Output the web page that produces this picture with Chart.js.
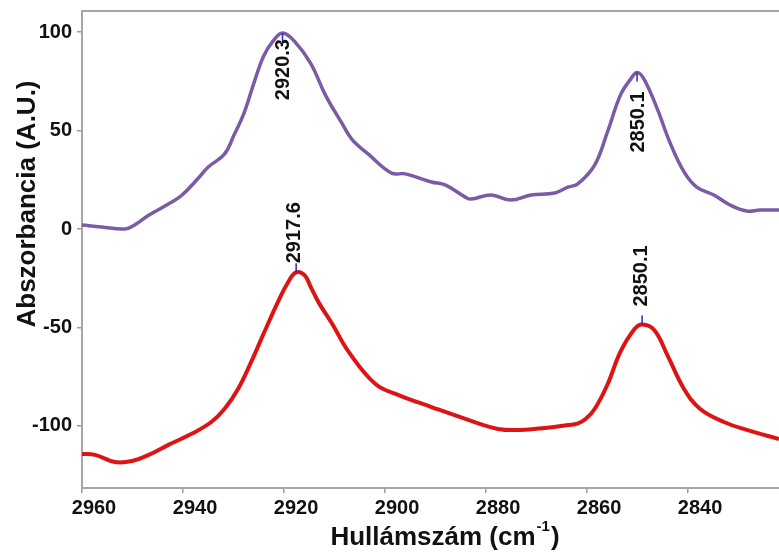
<!DOCTYPE html>
<html><head><meta charset="utf-8">
<script src="https://cdn.jsdelivr.net/npm/chart.js@4.4.1/dist/chart.umd.min.js"></script>
<style>html,body{margin:0;padding:0;background:#fff;}</style>
</head><body>
<canvas id="c" width="779" height="552"></canvas>
<script>
// ---- data ----
const xTickValues = [2960, 2940, 2920, 2900, 2880, 2860, 2840];
const yTickValues = [100, 50, 0, -50, -100];

const purpleWn  = [2960, 2956.1, 2951.5, 2949.6, 2946.8, 2942.9, 2940.3, 2936.9, 2935.0, 2931.8, 2929.9, 2927.9, 2925.9, 2924.0, 2922.0, 2920.3, 2918.0, 2914.7, 2911.8, 2908.6, 2906.6, 2903.3, 2898.7, 2896.0, 2890.8, 2888.0, 2884.1, 2883.0, 2879.0, 2875.1, 2871.1, 2866.4, 2863.8, 2861.9, 2858.5, 2856.0, 2853.4, 2851.4, 2850.1, 2848.7, 2846.1, 2843.6, 2840.8, 2838.3, 2834.9, 2831.7, 2828.4, 2825.8, 2822.0];
const purpleAbs = [2.0, 1.0, 0.0, 2.0, 7.0, 12.7, 17.0, 26.0, 31.5, 38.0, 47.7, 59.0, 74.6, 88.0, 96.0, 99.5, 95.5, 84.0, 68.0, 54.0, 45.7, 38.0, 28.4, 28.0, 23.9, 22.3, 16.2, 15.2, 17.3, 14.7, 17.3, 18.3, 21.3, 22.8, 32.5, 49.0, 68.0, 76.0, 79.5, 76.0, 61.0, 44.0, 29.0, 21.3, 17.3, 12.2, 9.1, 9.6, 9.6];

const redWn  = [2960, 2957.4, 2953.5, 2950.1, 2946.8, 2942.9, 2938.3, 2934.4, 2931.8, 2929.1, 2926.5, 2923.9, 2921.2, 2919.2, 2917.6, 2915.9, 2914.7, 2913.1, 2910.5, 2907.2, 2901.9, 2897.3, 2890.8, 2884.1, 2877.6, 2873.1, 2868.4, 2863.8, 2861.9, 2860.3, 2858.5, 2856.0, 2853.4, 2850.6, 2849.1, 2846.7, 2844.1, 2840.8, 2837.6, 2832.9, 2828.4, 2822.0];
const redAbs = [-114.2, -114.7, -118.3, -117.8, -114.7, -109.6, -104.0, -98.0, -91.4, -81.2, -67.5, -52.3, -37.0, -27.0, -22.0, -23.5, -29.5, -37.5, -48.0, -62.4, -78.7, -84.3, -90.4, -96.4, -101.5, -102.0, -101.0, -99.5, -98.8, -96.5, -91.4, -79.2, -62.4, -50.8, -48.5, -51.3, -64.0, -81.2, -91.4, -98.0, -102.0, -106.6];

// peak annotations
const peakWn    = [2920.3, 2850.1, 2917.6, 2849.1];
const peakAbs   = [99.5, 79.5, -22.0, -48.5];
const peakText  = ['2920.3', '2850.1', '2917.6', '2850.1'];
const peakSide  = ['below', 'below', 'above', 'above'];

const yTitle = 'Abszorbancia (A.U.)';
const xTitleMain = 'Hullámszám (cm';
const xTitleSup = '-1';
const xTitleEnd = ')';

const FONT = "'Liberation Sans', Arial, sans-serif";

const peakPlugin = {
  id: 'peaks',
  afterDatasetsDraw(chart) {
    const {ctx, scales: {x, y}} = chart;
    const gaps = [6, 19, 9, 18];
    const dxs = [0, 0, -3, -2];
    ctx.save();
    for (let i = 0; i < peakWn.length; i++) {
      const px = x.getPixelForValue(peakWn[i]);
      const py = y.getPixelForValue(peakAbs[i]);
      const dir = peakSide[i] === 'below' ? 1 : -1;
      ctx.strokeStyle = '#2a2aa8';
      ctx.lineWidth = 1.5;
      ctx.beginPath();
      ctx.moveTo(px, py);
      ctx.lineTo(px, py + dir * 9);
      ctx.stroke();
      ctx.save();
      ctx.translate(px + dxs[i], py + dir * gaps[i]);
      ctx.rotate(-Math.PI / 2);
      ctx.font = 'bold 20px ' + FONT;
      ctx.fillStyle = '#111';
      ctx.textBaseline = 'middle';
      ctx.textAlign = dir === 1 ? 'right' : 'left';
      ctx.fillText(peakText[i], 0, 1);
      ctx.restore();
    }
    ctx.restore();
  },
  afterDraw(chart) {
    const {ctx, chartArea} = chart;
    ctx.save();
    // top frame line
    ctx.strokeStyle = '#a6a6a6';
    ctx.lineWidth = 2;
    ctx.beginPath();
    ctx.moveTo(chartArea.left - 1, chartArea.top);
    ctx.lineTo(chartArea.right, chartArea.top);
    ctx.stroke();
    // y title
    ctx.fillStyle = '#111';
    ctx.save();
    ctx.translate(35, 204);
    ctx.rotate(-Math.PI / 2);
    ctx.font = 'bold 26px ' + FONT;
    ctx.textAlign = 'center';
    ctx.textBaseline = 'alphabetic';
    ctx.fillText(yTitle, 0, 0);
    ctx.restore();
    // x title with superscript
    ctx.font = 'bold 26px ' + FONT;
    const w1 = ctx.measureText(xTitleMain).width;
    const w3 = ctx.measureText(xTitleEnd).width;
    ctx.font = 'bold 15px ' + FONT;
    const w2 = ctx.measureText(xTitleSup).width;
    const total = w1 + w2 + w3 + 2;
    let sx = 445 - total / 2;
    const base = 545;
    ctx.textAlign = 'left';
    ctx.textBaseline = 'alphabetic';
    ctx.font = 'bold 26px ' + FONT;
    ctx.fillText(xTitleMain, sx, base);
    ctx.font = 'bold 15px ' + FONT;
    ctx.fillText(xTitleSup, sx + w1 + 1, base - 14);
    ctx.font = 'bold 26px ' + FONT;
    ctx.fillText(xTitleEnd, sx + w1 + w2 + 2, base);
    ctx.restore();
  }
};

const tickFont = {family: FONT, size: 20, weight: 'bold'};

new Chart(document.getElementById('c'), {
  type: 'line',
  data: {
    datasets: [
      {
        data: purpleWn.map((w, i) => ({x: w, y: purpleAbs[i]})),
        borderColor: '#7b5ba5',
        borderWidth: 3.5,
        pointRadius: 0,
        tension: 0.4,
        fill: false
      },
      {
        data: redWn.map((w, i) => ({x: w, y: redAbs[i]})),
        borderColor: '#dc1414',
        borderWidth: 4,
        pointRadius: 0,
        tension: 0.4,
        fill: false
      }
    ]
  },
  options: {
    responsive: false,
    animation: false,
    devicePixelRatio: 1,
    layout: {padding: {top: 11, left: 0, right: 0, bottom: 0}},
    plugins: {legend: {display: false}, tooltip: {enabled: false}},
    scales: {
      x: {
        type: 'linear',
        reverse: true,
        min: 2822,
        max: 2960,
        afterFit: s => { s.height = 64; s.paddingLeft = 0; s.paddingRight = 0; },
        afterBuildTicks: s => { s.ticks = xTickValues.map(v => ({value: v})); },
        grid: {drawOnChartArea: false, drawTicks: true, tickLength: 5, color: '#9a9a9a', lineWidth: 1.5},
        border: {display: true, color: '#a6a6a6', width: 2},
        ticks: {font: tickFont, color: '#111', padding: 3, labelOffset: 12, maxRotation: 0, autoSkip: false,
                callback: v => String(v)}
      },
      y: {
        min: -131.5,
        max: 110.7,
        afterFit: s => { s.width = 82; s.paddingTop = 0; s.paddingBottom = 0; },
        afterBuildTicks: s => { s.ticks = yTickValues.map(v => ({value: v})); },
        grid: {drawOnChartArea: false, drawTicks: true, tickLength: 5, color: '#9a9a9a', lineWidth: 1.5},
        border: {display: true, color: '#a6a6a6', width: 2},
        ticks: {font: tickFont, color: '#111', padding: 5, autoSkip: false, callback: v => String(v)}
      }
    }
  },
  plugins: [peakPlugin]
});
</script>
</body></html>
